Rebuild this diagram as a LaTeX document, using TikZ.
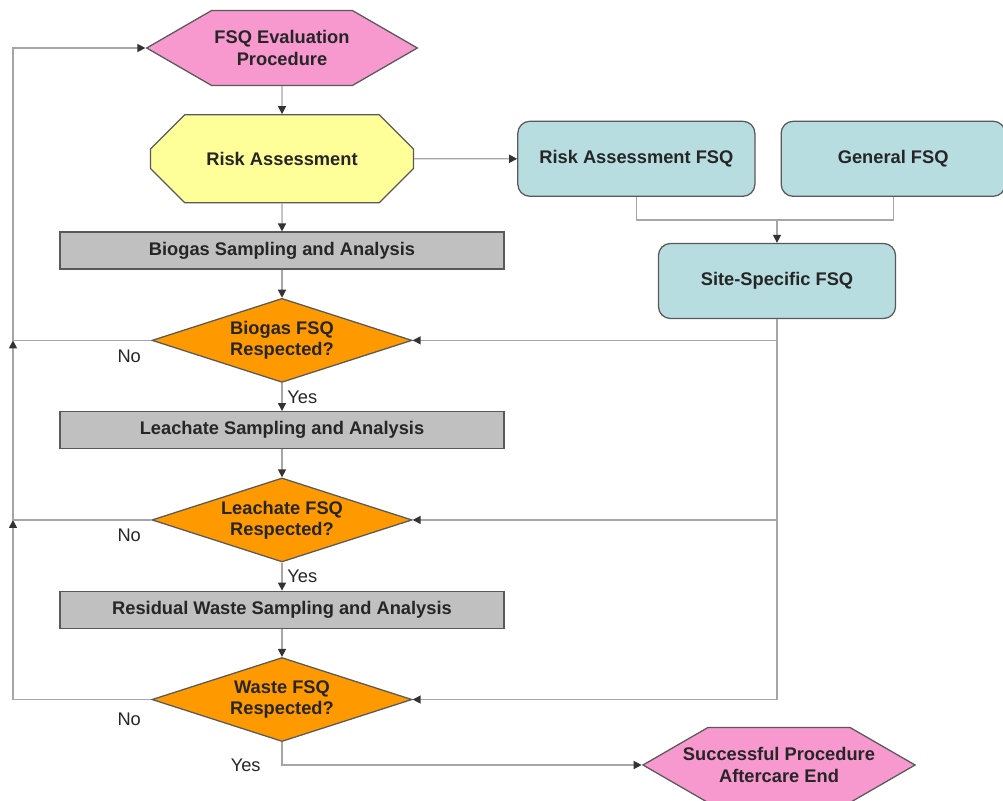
\documentclass[tikz,border=0pt]{standalone}
\usepackage{fontspec}
\setmainfont{Liberation Sans}
\usepackage{xcolor}
\definecolor{hexpink}{RGB}{247,152,206}
\definecolor{octyellow}{RGB}{255,255,153}
\definecolor{boxgray}{RGB}{192,192,192}
\definecolor{decorange}{RGB}{255,153,0}
\definecolor{fsqblue}{RGB}{183,221,224}
\usepackage{tikz}
\usetikzlibrary{shapes.geometric,shapes.misc,shapes.symbols,arrows.meta,positioning,calc}

\begin{document}
\begin{tikzpicture}[x=0.025cm,y=-0.025cm,
  node distance=7mm and 7mm,
  base/.style={draw=black!65,line width=0.9pt,align=center,
    font=\fontsize{13}{15}\selectfont\bfseries,text=black!85,inner sep=2pt},
  hexa/.style={base,signal,signal to=west and east,signal pointer angle=60,
    fill=hexpink,minimum width=6.75cm,minimum height=1.875cm},
  octa/.style={base,chamfered rectangle,chamfered rectangle xsep=0.58cm,
    chamfered rectangle ysep=0.62cm,fill=octyellow,minimum width=6.575cm,minimum height=2.2cm},
  task/.style={base,rectangle,fill=boxgray,minimum width=11.1cm,minimum height=0.925cm},
  decide/.style={base,diamond,aspect=3.1,inner sep=0pt,fill=decorange,
    minimum width=6.5cm,minimum height=2.1cm},
  fsq/.style={base,rectangle,rounded corners=0.3cm,fill=fsqblue,minimum height=1.875cm},
  line/.style={gray!70,line width=1pt},
  arr/.style={line,-{Triangle[length=2mm,width=2mm,color=black!80]}},
  lbl/.style={font=\fontsize{13}{15}\selectfont,text=black!85}]
  \path[fill=white,use as bounding box] (0,0) rectangle (1003,800);
  % main column
  \node[hexa] (eval) at (282,48) {FSQ Evaluation\\Procedure};
  \node[octa,below=of eval] (risk) {Risk Assessment};
  \node[task,below=of risk] (biogas) {Biogas Sampling and Analysis};
  \node[decide,below=of biogas] (biodec) {Biogas FSQ\\Respected?};
  \node[task,below=of biodec] (leach) {Leachate Sampling and Analysis};
  \node[decide,below=of leach] (leadec) {Leachate FSQ\\Respected?};
  \node[task,below=of leadec] (waste) {Residual Waste Sampling and Analysis};
  \node[decide,below=of waste] (wastedec) {Waste FSQ\\Respected?};
  \node[hexa,inner xsep=-1cm,minimum width=6.8cm] (succ) at (779,765) {Successful Procedure\\Aftercare End};
  % FSQ boxes
  \node[fsq,minimum width=5.925cm,right=2.575cm of risk] (rafsq) {Risk Assessment FSQ};
  \node[fsq,minimum width=5.6cm,right=0.625cm of rafsq] (genfsq) {General FSQ};
  \node[fsq,minimum width=5.925cm] (site) at (777,281) {Site-Specific FSQ};
  \coordinate (loop) at (13,0);
  \coordinate (fsqjoin) at ($(site.north)+(0,0.575cm)$);

  \draw[arr] (eval) -- (risk);
  \draw[arr] (risk) -- (biogas);
  \draw[arr] (biogas) -- (biodec);
  \draw[arr] (biodec) -- node[lbl,right]{Yes} (leach);
  \draw[arr] (leach) -- (leadec);
  \draw[arr] (leadec) -- node[lbl,right]{Yes} (waste);
  \draw[arr] (waste) -- (wastedec);
  \draw[arr] (wastedec) |- node[lbl,pos=0.5,left=4mm]{Yes} (succ);

  \draw[arr] (risk) -- (rafsq);
  \draw[line] (rafsq.south) |- (fsqjoin) -| (genfsq.south);
  \draw[arr] (fsqjoin) -- (site);
  \draw[arr] (site.south) |- (biodec.east);
  \draw[arr] (site.south) |- (leadec.east);
  \draw[arr] (site.south) |- (wastedec.east);

  \draw[arr] (wastedec.west) -| node[lbl,pos=0.08,below=2mm]{No} (leadec.west -| loop);
  \draw[arr] (leadec.west) -| node[lbl,pos=0.08,below=1mm]{No} (biodec.west -| loop);
  \draw[arr] (biodec.west) -| node[lbl,pos=0.08,below=1mm]{No} (eval.west -| loop) -- (eval.west);
\end{tikzpicture}
\end{document}
